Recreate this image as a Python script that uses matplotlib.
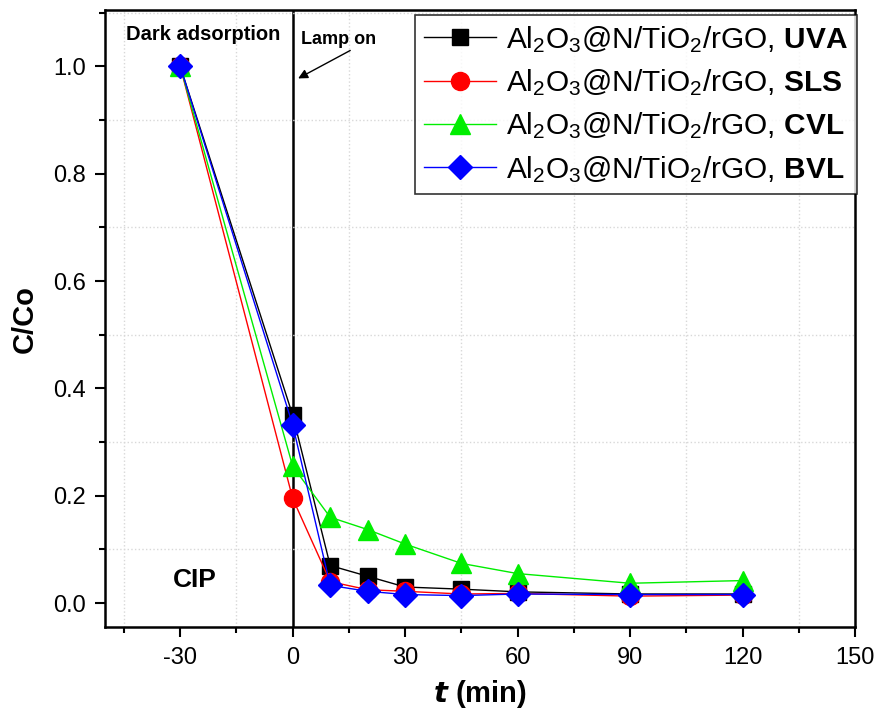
import matplotlib
matplotlib.use('Agg')
import matplotlib.pyplot as plt
from matplotlib.ticker import MultipleLocator

plt.rcParams['font.family'] = ['Liberation Sans', 'DejaVu Sans']
plt.rcParams['mathtext.fontset'] = 'custom'
plt.rcParams['mathtext.rm'] = 'Liberation Sans'
plt.rcParams['mathtext.it'] = 'Liberation Sans:italic'
plt.rcParams['mathtext.bf'] = 'Liberation Sans:bold'
plt.rcParams['axes.unicode_minus'] = False

t = [-30, 0, 10, 20, 30, 45, 60, 90, 120]
uva = [1.0, 0.35, 0.07, 0.05, 0.03, 0.026, 0.021, 0.017, 0.017]
sls = [1.0, 0.195, 0.04, 0.025, 0.022, 0.017, 0.018, 0.013, 0.015]
cvl = [1.0, 0.255, 0.16, 0.137, 0.11, 0.074, 0.055, 0.037, 0.042]
bvl = [1.0, 0.332, 0.033, 0.022, 0.016, 0.014, 0.017, 0.016, 0.016]

base = r'Al$_2$O$_3$@N/TiO$_2$/rGO, '

fig = plt.figure(figsize=(8.77, 7.12), dpi=100)
ax = fig.add_axes([0.12, 0.119, 0.855, 0.867])

ax.plot(t, uva, color='black', lw=1, marker='s', ms=12, label=base + r'$\mathbf{UVA}$')
ax.plot(t, sls, color='red', lw=1, marker='o', ms=13, label=base + r'$\mathbf{SLS}$')
ax.plot(t, cvl, color='#00ee00', lw=1, marker='^', ms=15, label=base + r'$\mathbf{CVL}$')
ax.plot(t, bvl, color='blue', lw=1, marker='D', ms=12, label=base + r'$\mathbf{BVL}$')

ax.axvline(0, color='black', lw=1.8, zorder=1)

ax.set_xlim(-50, 150)
ax.set_ylim(-0.045, 1.105)
ax.xaxis.set_major_locator(MultipleLocator(30))
ax.xaxis.set_minor_locator(MultipleLocator(15))
ax.yaxis.set_major_locator(MultipleLocator(0.2))
ax.yaxis.set_minor_locator(MultipleLocator(0.1))
ax.yaxis.set_major_formatter(matplotlib.ticker.FormatStrFormatter('%.1f'))
ax.grid(which='minor', color='#d8d8d8', ls=':', lw=1)
ax.tick_params(which='both', direction='out', width=1.5, top=False, right=False)
ax.tick_params(which='major', length=7, labelsize=17, pad=7)
ax.tick_params(which='minor', length=4)
for s in ax.spines.values():
    s.set_linewidth(1.8)

ax.set_xlabel(r'$\boldsymbol{t}$ (min)', fontsize=21, fontweight='bold', labelpad=7)
ax.set_ylabel('C/Co', fontsize=21, fontweight='bold', labelpad=10)

ax.text(-24, 1.06, 'Dark adsorption', fontsize=14.5, fontweight='bold', ha='center', va='center')
ax.text(2.2, 1.05, 'Lamp on', fontsize=13, fontweight='bold', ha='left', va='center')
ax.annotate('', xy=(0.8, 0.975), xytext=(16, 1.032),
            arrowprops=dict(arrowstyle='-|>', color='black', lw=1, mutation_scale=14))
ax.text(-26, 0.043, 'CIP', fontsize=19, fontweight='bold', ha='center', va='center')

leg = ax.legend(loc='upper right', bbox_to_anchor=(1.003, 0.992), fontsize=21.5,
                frameon=True, fancybox=False, edgecolor='black', borderaxespad=0,
                handlelength=2.4, labelspacing=0.42, handletextpad=0.35,
                borderpad=0.3)
leg.get_frame().set_linewidth(1.2)

fig.savefig('out.png', dpi=100)
